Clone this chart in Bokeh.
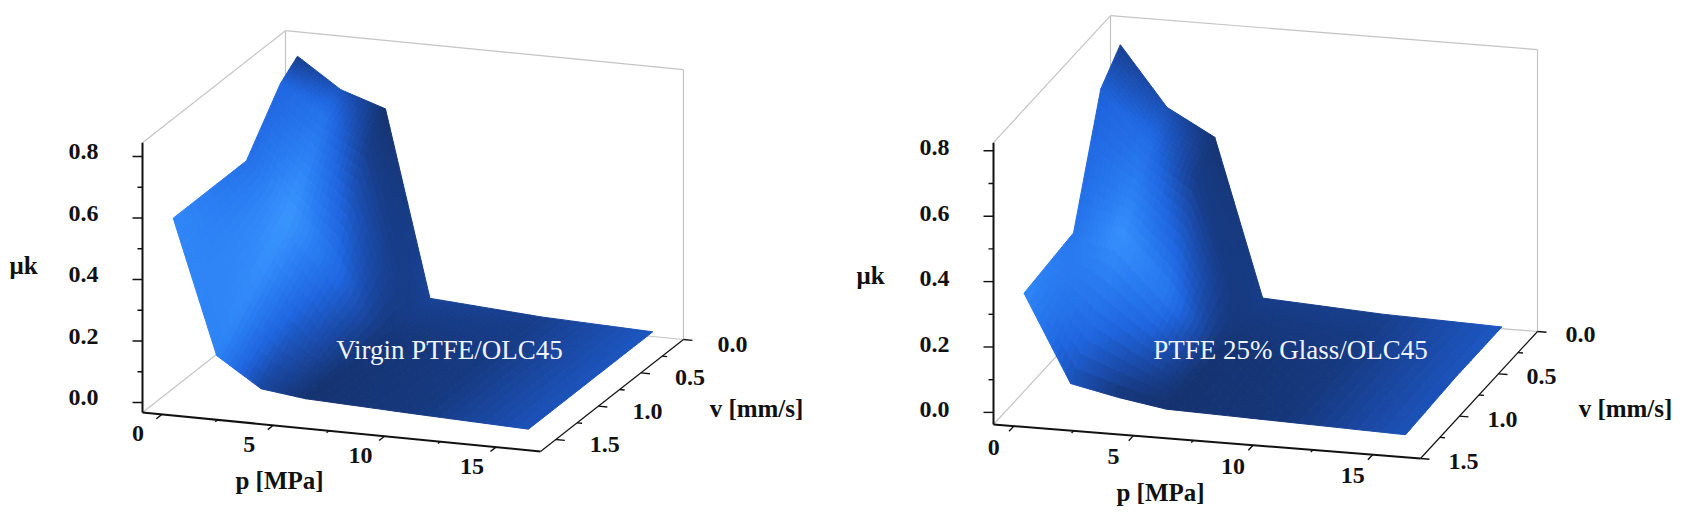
from bokeh.plotting import figure
from bokeh.embed import file_html
from bokeh.resources import INLINE
from bokeh.core.properties import value

# ---------- data ----------
p_grid_left = [0.05, 2, 4, 6, 11, 16]
v_grid_left = [0.10, 0.30, 0.70, 1.56]
mu_left_v1 = [0.79, 0.695, 0.647, 0.045, 0.02, 0.007]
mu_left_v2 = [0.745, 0.65, 0.57, 0.04, 0.02, 0.007]
mu_left_v3 = [0.58, 0.42, 0.27, 0.04, 0.02, 0.007]
mu_left_v4 = [0.58, 0.147, 0.053, 0.035, 0.02, 0.007]

p_grid_right = [0.05, 2, 4, 6, 11, 16]
v_grid_right = [0.15, 0.40, 0.75, 1.385]
mu_right_v1 = [0.78, 0.60, 0.52, 0.04, 0.02, 0.01]
mu_right_v2 = [0.71, 0.55, 0.45, 0.04, 0.02, 0.01]
mu_right_v3 = [0.36, 0.36, 0.20, 0.03, 0.02, 0.01]
mu_right_v4 = [0.34, 0.075, 0.044, 0.02, 0.01, 0.0]

# surface lightness at the grid nodes (0 dark navy, 1 bright blue)
light_left = [[.12, .35, .02, .18, .14, .36],
              [.50, .65, .12, .12, .12, .36],
              [.60, 1.0, .60, .05, .10, .34],
              [.85, .80, .20, .02, .08, .32]]
light_right = [[.15, .30, .04, .12, .14, .36],
               [.45, .60, .12, .08, .10, .36],
               [.65, .95, .70, .03, .08, .33],
               [.85, .30, .05, .02, .06, .32]]
palette = [(0x14, 0x30, 0x6a), (0x1a, 0x4a, 0xa8), (0x1f, 0x66, 0xe0), (0x2a, 0x7d, 0xf2), (0x3a, 0x96, 0xff)]

p_ticks = [0, 5, 10, 15]
v_ticks = [0.0, 0.5, 1.0, 1.5]
mu_ticks = [0.0, 0.2, 0.4, 0.6, 0.8]
p_minor = [2.5, 7.5, 12.5]
v_minor = [0.25, 0.75, 1.25]
mu_minor = [0.1, 0.3, 0.5, 0.7]

FONT = value("Liberation Serif")

panels = [
    dict(p_grid=p_grid_left, v_grid=v_grid_left,
         mu=[mu_left_v1, mu_left_v2, mu_left_v3, mu_left_v4], light=light_left,
         A=(142, 412), B=(540, 451), C=(683, 339),
         p_lim=(-0.87, 17.0), v_lim=(0.0, 1.68), z_lim=(-0.0325, 0.845), z_px=307.5,
         p_off=(-24, 19), v_off=(49, 5), z_lab_x=83, z_lab_dy=-5,
         note="Virgin PTFE/OLC45", note_xy=(449, 349),
         p_title=(279, 480), v_title=(756, 408), mu_title=(23, 265)),
    dict(p_grid=p_grid_right, v_grid=v_grid_right,
         mu=[mu_right_v1, mu_right_v2, mu_right_v3, mu_right_v4], light=light_right,
         A=(993, 424), B=(1420, 458), C=(1537, 331),
         p_lim=(-0.85, 17.0), v_lim=(0.0, 1.5), z_lim=(-0.037, 0.825), z_px=327,
         p_off=(-20, 21), v_off=(43, 3), z_lab_x=934, z_lab_dy=-3,
         note="PTFE 25% Glass/OLC45", note_xy=(1290, 349),
         p_title=(1160, 492), v_title=(1625, 408), mu_title=(870, 275)),
]

fig = figure(width=1681, height=515, x_range=(0, 1681), y_range=(515, 0),
             toolbar_location=None, output_backend="svg", min_border=0,
             background_fill_color="white", border_fill_color="white", outline_line_color=None)
fig.xaxis.visible = False
fig.yaxis.visible = False
fig.grid.visible = False


def shade(t):
    t = max(0.0, min(1.0, t)) * (len(palette) - 1)
    i = min(int(t), len(palette) - 2)
    f = t - i
    c = [round(palette[i][k] + (palette[i + 1][k] - palette[i][k]) * f) for k in range(3)]
    return "#%02x%02x%02x" % tuple(c)


def draw_panel(cfg):
    ax, ay = cfg["A"]
    bx, by = cfg["B"]
    cx, cy = cfg["C"]
    p0, p1 = cfg["p_lim"]
    v0, v1 = cfg["v_lim"]
    z0, z1 = cfg["z_lim"]
    zpx = cfg["z_px"]

    def proj(p, v, z):
        a = (p - p0) / (p1 - p0)
        b = (v1 - v) / (v1 - v0)
        return (ax + a * (bx - ax) + b * (cx - bx),
                ay + a * (by - ay) + b * (cy - by) - (z - z0) * zpx)

    corner_pairs = [
        ((p0, v0, z0), (p0, v0, z1)), ((p0, v1, z1), (p0, v0, z1)), ((p0, v0, z1), (p1, v0, z1)),
        ((p1, v0, z1), (p1, v0, z0)), ((p0, v1, z0), (p0, v0, z0)), ((p0, v0, z0), (p1, v0, z0)),
    ]
    segs = [proj(*s) + proj(*e) for s, e in corner_pairs]
    fig.segment([s[0] for s in segs], [s[1] for s in segs], [s[2] for s in segs], [s[3] for s in segs],
                line_color="#c4c4c4", line_width=1.2)

    # surface, painted back to front
    pg, vg, mu, li = cfg["p_grid"], cfg["v_grid"], cfg["mu"], cfg["light"]
    N = 10
    xs, ys, cols = [], [], []

    def node(r, c, s, t):
        pv = pg[c] + (pg[c + 1] - pg[c]) * s
        vv = vg[r] + (vg[r + 1] - vg[r]) * t
        zv = ((mu[r][c] * (1 - s) + mu[r][c + 1] * s) * (1 - t)
              + (mu[r + 1][c] * (1 - s) + mu[r + 1][c + 1] * s) * t)
        return proj(pv, vv, zv)

    def lit(r, c, s, t):
        return ((li[r][c] * (1 - s) + li[r][c + 1] * s) * (1 - t)
                + (li[r + 1][c] * (1 - s) + li[r + 1][c + 1] * s) * t)

    for r in range(len(vg) - 1):
        for c in range(len(pg) - 1):
            for j in range(N):
                for i in range(N):
                    s0, s1, t0, t1 = i / N, (i + 1) / N, j / N, (j + 1) / N
                    q = [node(r, c, s0, t0), node(r, c, s1, t0), node(r, c, s1, t1), node(r, c, s0, t1)]
                    xs.append([k[0] for k in q])
                    ys.append([k[1] for k in q])
                    cols.append(shade(lit(r, c, (s0 + s1) / 2, (t0 + t1) / 2)))
    fig.patches(xs, ys, fill_color=cols, line_color=cols, line_width=1.0)

    # black axes
    axes = [((p0, v1, z0), (p0, v1, z1), 2.0), ((p0, v1, z0), (p1, v1, z0), 2.0), ((p1, v1, z0), (p1, v0, z0), 1.2)]
    for s, e, w in axes:
        a_, b_ = proj(*s), proj(*e)
        fig.line([a_[0], b_[0]], [a_[1], b_[1]], line_color="#111111", line_width=w)

    # ticks
    tx0, ty0, tx1, ty1 = [], [], [], []

    def tick(base, dx, dy):
        tx0.append(base[0]); ty0.append(base[1]); tx1.append(base[0] + dx); ty1.append(base[1] + dy)

    ux, uy = (cx - bx), (cy - by)
    un = (ux ** 2 + uy ** 2) ** 0.5
    wx, wy = (bx - ax), (by - ay)
    wn = (wx ** 2 + wy ** 2) ** 0.5
    for m in mu_ticks:
        tick(proj(p0, v1, m), -10, 0)
    for m in mu_minor:
        tick(proj(p0, v1, m), -5, 0)
    for t in p_ticks:
        tick(proj(t, v1, z0), -ux / un * 7, -uy / un * 7)
    for t in p_minor:
        tick(proj(t, v1, z0), -ux / un * 3, -uy / un * 3)
    for t in v_ticks:
        tick(proj(p1, t, z0), wx / wn * 9, wy / wn * 9)
    for t in v_minor:
        tick(proj(p1, t, z0), wx / wn * 5, wy / wn * 5)
    fig.segment(tx0, ty0, tx1, ty1, line_color="#111111", line_width=1.4)

    # labels
    def label(x, y, s, size="24px", style="bold", color="#111111"):
        fig.text([x], [y], text=[s], text_font=FONT, text_font_size=value(size), text_font_style=style,
                 text_color=color, text_align="center", text_baseline="middle")

    for t in p_ticks:
        q = proj(t, v1, z0)
        label(q[0] + cfg["p_off"][0], q[1] + cfg["p_off"][1], str(t))
    for t in v_ticks:
        q = proj(p1, t, z0)
        label(q[0] + cfg["v_off"][0], q[1] + cfg["v_off"][1], "%.1f" % t)
    for m in mu_ticks:
        q = proj(p0, v1, m)
        label(cfg["z_lab_x"], q[1] + cfg["z_lab_dy"], "%.1f" % m)
    label(*cfg["p_title"], "p [MPa]", size="25px")
    label(*cfg["v_title"], "v [mm/s]", size="25px")
    label(*cfg["mu_title"], "μk", size="25px")
    label(*cfg["note_xy"], cfg["note"], size="27px", style="normal", color="#f0f4ff")


for cfg in panels:
    draw_panel(cfg)

open("out.html", "w").write(file_html(fig, INLINE))
